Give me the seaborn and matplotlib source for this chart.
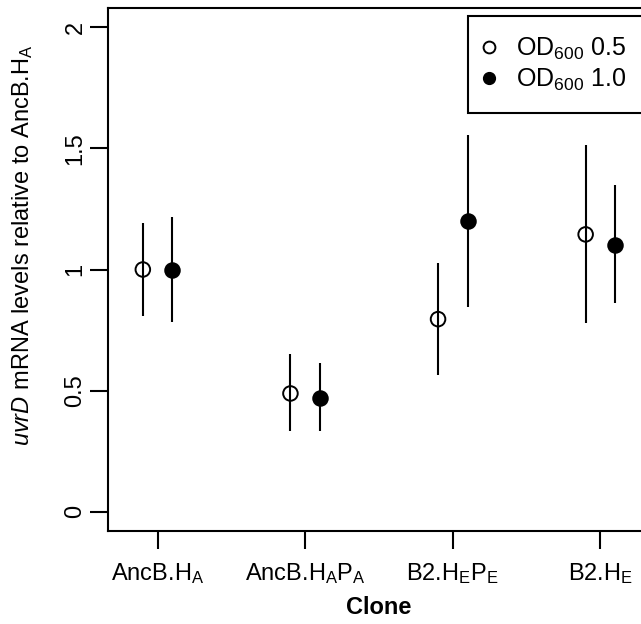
import numpy as np
import pandas as pd
import matplotlib
matplotlib.use("Agg")
import matplotlib.pyplot as plt
from matplotlib.lines import Line2D
import seaborn as sns

clones = [r"AncB.H$_\mathregular{A}$",
          r"AncB.H$_\mathregular{A}$P$_\mathregular{A}$",
          r"B2.H$_\mathregular{E}$P$_\mathregular{E}$",
          r"B2.H$_\mathregular{E}$"]
od05_mean = [1.000, 0.488, 0.795, 1.145]
od05_low = [0.810, 0.331, 0.564, 0.779]
od05_high = [1.194, 0.649, 1.025, 1.513]
od10_mean = [1.000, 0.471, 1.202, 1.103]
od10_low = [0.785, 0.335, 0.847, 0.860]
od10_high = [1.215, 0.612, 1.555, 1.347]
yticks = [0, 0.5, 1, 1.5, 2]
ytick_labels = ["0", "0.5", "1", "1.5", "2"]

sns.set_style("ticks")
plt.rcParams["font.family"] = ["Liberation Sans", "DejaVu Sans"]
plt.rcParams["mathtext.fontset"] = "custom"
plt.rcParams["mathtext.rm"] = "Liberation Sans"
plt.rcParams["mathtext.it"] = "Liberation Sans:italic"
plt.rcParams["mathtext.bf"] = "Liberation Sans:bold"
plt.rcParams["text.color"] = "black"
plt.rcParams["axes.labelcolor"] = "black"
plt.rcParams["xtick.color"] = "black"
plt.rcParams["ytick.color"] = "black"

pos = np.arange(1, len(clones) + 1)
dodge = 0.1
df05 = pd.DataFrame({"x": pos - dodge, "mean": od05_mean, "low": od05_low, "high": od05_high})
df10 = pd.DataFrame({"x": pos + dodge, "mean": od10_mean, "low": od10_low, "high": od10_high})

W, H = 641, 624
fig = plt.figure(figsize=(W / 100, H / 100), dpi=100)
ax_w, ax_h = 650 - 108, 531 - 8
ax = fig.add_axes([108 / W, 1 - 531 / H, ax_w / W, ax_h / H])

fs = 17
lw = 1.5
for d, filled in [(df05, False), (df10, True)]:
    ax.vlines(d["x"], d["low"], d["high"], color="black", linewidth=lw, zorder=2)
    sns.scatterplot(data=d, x="x", y="mean", ax=ax, color="black", s=110,
                    marker="o", linewidth=1.4, edgecolor="black", zorder=3)
    coll = ax.collections[-1]
    coll.set_facecolor("black" if filled else "none")

ax.set_xlim(0.664, 4.336)
ax.set_ylim(-0.08, 2.08)
ax.set_xticks(pos)
ax.set_xticklabels(clones, fontsize=fs)
ax.set_yticks(yticks)
ax.set_yticklabels(ytick_labels, fontsize=fs, rotation=90, va="center")
ax.tick_params(axis="both", direction="out", length=13, width=lw, color="black",
               labelcolor="black")
ax.tick_params(axis="x", pad=9)
ax.tick_params(axis="y", pad=2.5)
for s in ax.spines.values():
    s.set_linewidth(lw)
    s.set_color("black")

ax.set_xlabel("Clone", fontsize=fs, fontweight="bold", labelpad=7, color="black")
ax.set_ylabel(r"$\mathit{uvrD}$ mRNA levels relative to AncB.H$_\mathregular{A}$",
              fontsize=fs, color="black")
ax.yaxis.set_label_coords((35 - 108) / ax_w, (531 - 245) / ax_h)

handles = [
    Line2D([], [], linestyle="none", marker="o", markersize=8.5, markerfacecolor="none",
           markeredgecolor="black", markeredgewidth=1.4),
    Line2D([], [], linestyle="none", marker="o", markersize=8.5, markerfacecolor="black",
           markeredgecolor="black"),
]
lfs = 18
leg = ax.legend(handles, [r"OD$_\mathregular{600}$ 0.5", r"OD$_\mathregular{600}$ 1.0"],
                loc="upper left",
                bbox_to_anchor=((468 - 108) / ax_w, (531 - 16) / ax_h),
                fontsize=lfs, frameon=True, fancybox=False, framealpha=1,
                edgecolor="black", borderpad=0.8, handlelength=0.1, handletextpad=1.0,
                labelspacing=0.2, borderaxespad=0)
leg.get_frame().set_linewidth(lw)
for t in leg.get_texts():
    t.set_color("black")

fig.savefig("out.png", dpi=100)
